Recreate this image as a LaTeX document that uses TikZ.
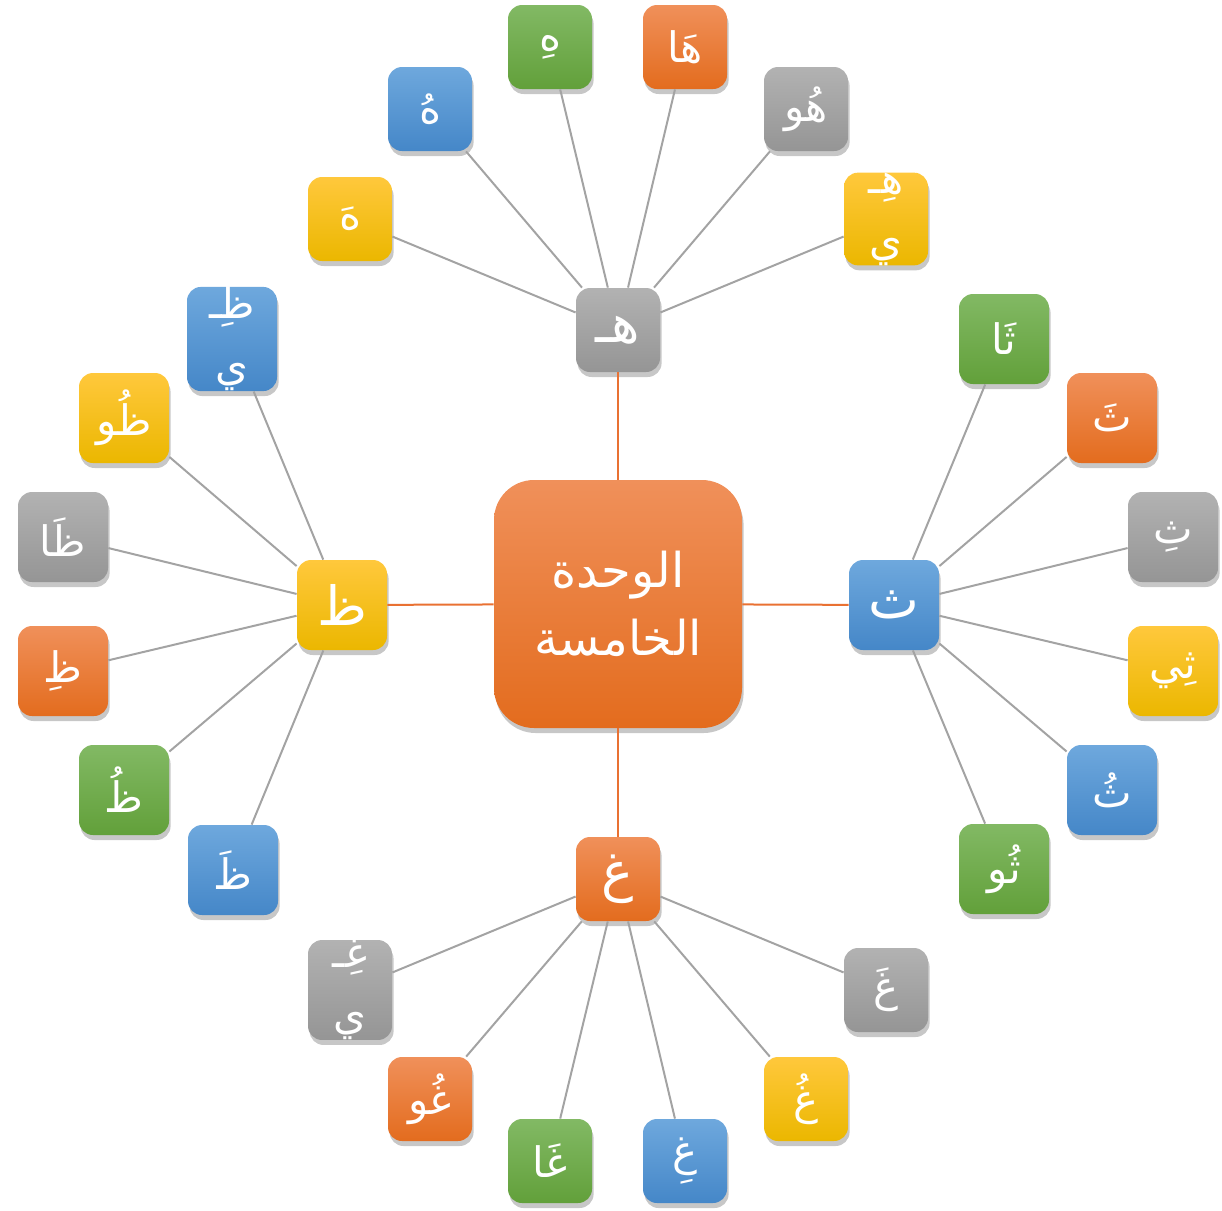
\documentclass[tikz,border=0pt]{standalone}
\usepackage{fontspec}
\newfontfamily\arabicfont[Script=Arabic]{DejaVu Sans}
\TeXXeTstate=1
\usetikzlibrary{shadows}
\newcommand{\artxt}[1]{\beginR #1\endR}
\definecolor{orT}{HTML}{F0905A}\definecolor{orM}{HTML}{F47C2C}\definecolor{orB}{HTML}{E36C1E}
\definecolor{blT}{HTML}{6EA8DD}\definecolor{blM}{HTML}{5A9BD5}\definecolor{blB}{HTML}{4587C8}
\definecolor{grT}{HTML}{82B964}\definecolor{grM}{HTML}{71AD47}\definecolor{grB}{HTML}{62A03A}
\definecolor{yeT}{HTML}{FFC83C}\definecolor{yeM}{HTML}{FFC000}\definecolor{yeB}{HTML}{EBB700}
\definecolor{gyT}{HTML}{B2B2B2}\definecolor{gyM}{HTML}{A5A5A5}\definecolor{gyB}{HTML}{959595}
\definecolor{glin}{HTML}{A3A3A3}\definecolor{olin}{HTML}{E97132}
\tikzset{
  box/.style={rectangle, rounded corners=7pt, inner sep=0pt, text=white, align=center,
    drop shadow={shadow xshift=0.8pt, shadow yshift=-2.5pt, opacity=0.22, fill=black}},
  small/.style={box, minimum size=42pt, font=\arabicfont\fontsize{21}{31}\selectfont},
  big/.style={box, minimum size=45pt, font=\arabicfont\fontsize{21}{31}\selectfont},
  hubs/.style={box, minimum size=42pt, font=\arabicfont\fontsize{27}{30}\selectfont},
  hubb/.style={box, minimum size=45pt, font=\arabicfont\fontsize{27}{30}\selectfont},
  orc/.style={top color=orT, middle color=orM, bottom color=orB},
  blc/.style={top color=blT, middle color=blM, bottom color=blB},
  grc/.style={top color=grT, middle color=grM, bottom color=grB},
  yec/.style={top color=yeT, middle color=yeM, bottom color=yeB},
  gyc/.style={top color=gyT, middle color=gyM, bottom color=gyB},
  gline/.style={draw=glin, line width=1pt},
  oline/.style={draw=olin, line width=1pt}
}
\begin{document}
\begin{tikzpicture}[x=0.5pt, y=-0.5pt]
\useasboundingbox (0,0) rectangle (1222,1211);
% centre
\node[box, orc, rounded corners=20pt, minimum size=124pt, font=\arabicfont\fontsize{24}{34}\selectfont] (C) at (618,604) {\artxt{الوحدة}\\\artxt{الخامسة}};
% hubs
\node[hubs, gyc] (T) at (618,330) {\artxt{هـ}};
\node[hubb, blc] (R) at (894,605) {\artxt{ث}};
\node[hubs, orc] (B) at (618,879) {\artxt{غ}};
\node[hubb, yec] (L) at (342,605) {\artxt{ظ}};
% top leaves
\node[small, yec] (t1) at (350,219) {\artxt{هَ}};
\node[small, blc] (t2) at (430,109) {\artxt{هُ}};
\node[small, grc] (t3) at (550,47) {\artxt{هِ}};
\node[small, orc] (t4) at (685,47) {\artxt{هَا}};
\node[small, gyc] (t5) at (806,109) {\artxt{هُو}};
\node[small, yec] (t6) at (886,219) {\artxt{هِـ}\\\artxt{ي}};
% right leaves
\node[big, grc] (r1) at (1004,339) {\artxt{ثَا}};
\node[big, orc] (r2) at (1112,418) {\artxt{ثَ}};
\node[big, gyc] (r3) at (1173,537) {\artxt{ثِ}};
\node[big, yec] (r4) at (1173,671) {\artxt{ثِي}};
\node[big, blc] (r5) at (1112,790) {\artxt{ثُ}};
\node[big, grc] (r6) at (1004,869) {\artxt{ثُو}};
% left leaves
\node[big, blc] (l1) at (232,339) {\artxt{ظِـ}\\\artxt{ي}};
\node[big, yec] (l2) at (124,418) {\artxt{ظُو}};
\node[big, gyc] (l3) at (63,537) {\artxt{ظَا}};
\node[big, orc] (l4) at (63,671) {\artxt{ظِ}};
\node[big, grc] (l5) at (124,790) {\artxt{ظُ}};
\node[big, blc] (l6) at (233,870) {\artxt{ظَ}};
% bottom leaves
\node[small, gyc] (b1) at (350,990) {\artxt{غِـ}\\\artxt{ي}};
\node[small, orc] (b2) at (430,1099) {\artxt{غُو}};
\node[small, grc] (b3) at (550,1161) {\artxt{غَا}};
\node[small, blc] (b4) at (685,1161) {\artxt{غِ}};
\node[small, yec] (b5) at (806,1099) {\artxt{غُ}};
\node[small, gyc] (b6) at (886,990) {\artxt{غَ}};
% connectors
\foreach \h in {T,R,B,L} \draw[oline] (C) -- (\h);
\foreach \i in {1,...,6} {
  \draw[gline] (T) -- (t\i);
  \draw[gline] (R) -- (r\i);
  \draw[gline] (L) -- (l\i);
  \draw[gline] (B) -- (b\i);
}
\end{tikzpicture}
\end{document}
